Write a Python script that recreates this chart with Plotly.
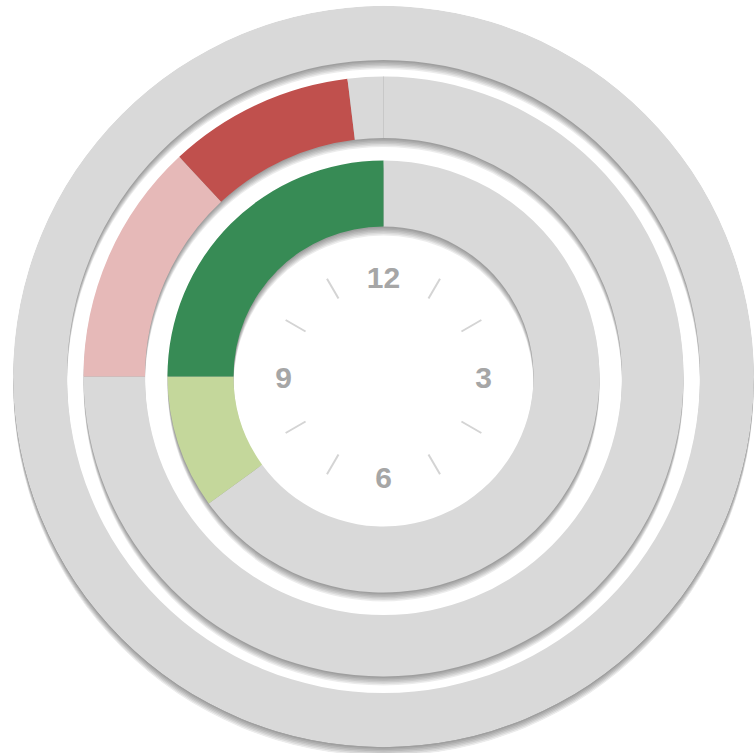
import plotly.graph_objects as go

# ---------------- data (hours on a 12-hour dial, clockwise from 12) ----------------
outer_values = [12.0]
outer_colors = ["#d9d9d9"]

middle_values = [9.0, 1.57, 1.2, 0.23]
middle_colors = ["#d9d9d9", "#e6b9b8", "#c0504d", "#d9d9d9"]

inner_values = [7.8, 1.2, 3.0]
inner_colors = ["#d9d9d9", "#c4d79b", "#378b55"]

dial_labels = ["12", "3", "6", "9"]
dial_label_hours = [0, 3, 6, 9]
tick_hours = [1, 2, 4, 5, 7, 8, 10, 11]

# ---------------- geometry / style ----------------
W = 754
H = 790          # canvas a bit taller than the window so the bottom shadow has room
CX, CY = 383.5, 376.5   # centre in px from top-left
R = 370.5
DEG_PER_HOUR = 30.0

rings = [
    (outer_values, outer_colors, 316.5, 370.5),
    (middle_values, middle_colors, 238.5, 300.0),
    (inner_values, inner_colors, 150.0, 216.0),
]

x_dom = [(CX - R) / W, min(1.0, (CX + R) / W)]


def y_domain(offset_px):
    top = CY - R + offset_px
    bot = CY + R + offset_px
    return [(H - bot) / H, (H - top) / H]


shadow_offsets = [9.0, 7.5, 6.0, 4.5, 3.0, 1.5]
shadow_color = "rgba(0,0,0,0.075)"

fig = go.Figure()
polar_common = dict(
    bgcolor="rgba(0,0,0,0)",
    hole=0,
    barmode="overlay",
    radialaxis=dict(range=[0, R], visible=False, showgrid=False),
    angularaxis=dict(visible=False, showgrid=False, direction="clockwise", rotation=90),
)

layout_polars = {}
idx = 0


def new_subplot(offset_px):
    global idx
    idx += 1
    name = "polar" if idx == 1 else f"polar{idx}"
    layout_polars[name] = dict(domain=dict(x=x_dom, y=y_domain(offset_px)), **polar_common)
    return name


for off in shadow_offsets:
    name = new_subplot(off)
    for vals, cols, r0, r1 in rings:
        fig.add_trace(go.Barpolar(
            subplot=name, theta=[180], width=[360], base=[r0], r=[r1 - r0],
            marker=dict(color=shadow_color, line=dict(width=0)),
            hoverinfo="skip", showlegend=False,
        ))

main = new_subplot(0)

for vals, cols, r0, r1 in rings:
    thetas, widths = [], []
    cum = 0.0
    for v in vals:
        thetas.append((cum + v / 2) * DEG_PER_HOUR)
        widths.append(v * DEG_PER_HOUR)
        cum += v
    fig.add_trace(go.Barpolar(
        subplot=main, theta=thetas, width=widths,
        base=[r0] * len(vals), r=[r1 - r0] * len(vals),
        marker=dict(color=cols, line=dict(width=0)),
        hoverinfo="skip", showlegend=False,
    ))

# thin divider at 12 o'clock on the middle ring
fig.add_trace(go.Scatterpolar(
    subplot=main, r=[rings[1][2], rings[1][3]], theta=[0, 0], mode="lines",
    line=dict(color="#c8c8c8", width=1), hoverinfo="skip", showlegend=False,
))

# clock ticks
tr, tt = [], []
for h in tick_hours:
    tr += [90, 113, None]
    tt += [h * DEG_PER_HOUR, h * DEG_PER_HOUR, None]
fig.add_trace(go.Scatterpolar(
    subplot=main, r=tr, theta=tt, mode="lines",
    line=dict(color="#d4d4d4", width=2), hoverinfo="skip", showlegend=False,
))

# clock labels (own subplot nudged down so glyphs sit optically centred)
lab = new_subplot(3.5)
fig.add_trace(go.Scatterpolar(
    subplot=lab, r=[100] * len(dial_labels),
    theta=[h * DEG_PER_HOUR for h in dial_label_hours],
    mode="text", text=dial_labels, textposition="middle center",
    textfont=dict(family="Liberation Sans, Arial, sans-serif", size=30,
                  color="#a6a6a6", weight="bold"),
    hoverinfo="skip", showlegend=False,
))

fig.update_layout(
    width=W, height=H,
    margin=dict(l=0, r=0, t=0, b=0),
    paper_bgcolor="white", plot_bgcolor="white",
    showlegend=False,
    **layout_polars,
)

fig.write_html(
    "out.html",
    config={"displayModeBar": False},
    post_script="document.body.style.margin='0';document.body.style.overflow='hidden';",
)
